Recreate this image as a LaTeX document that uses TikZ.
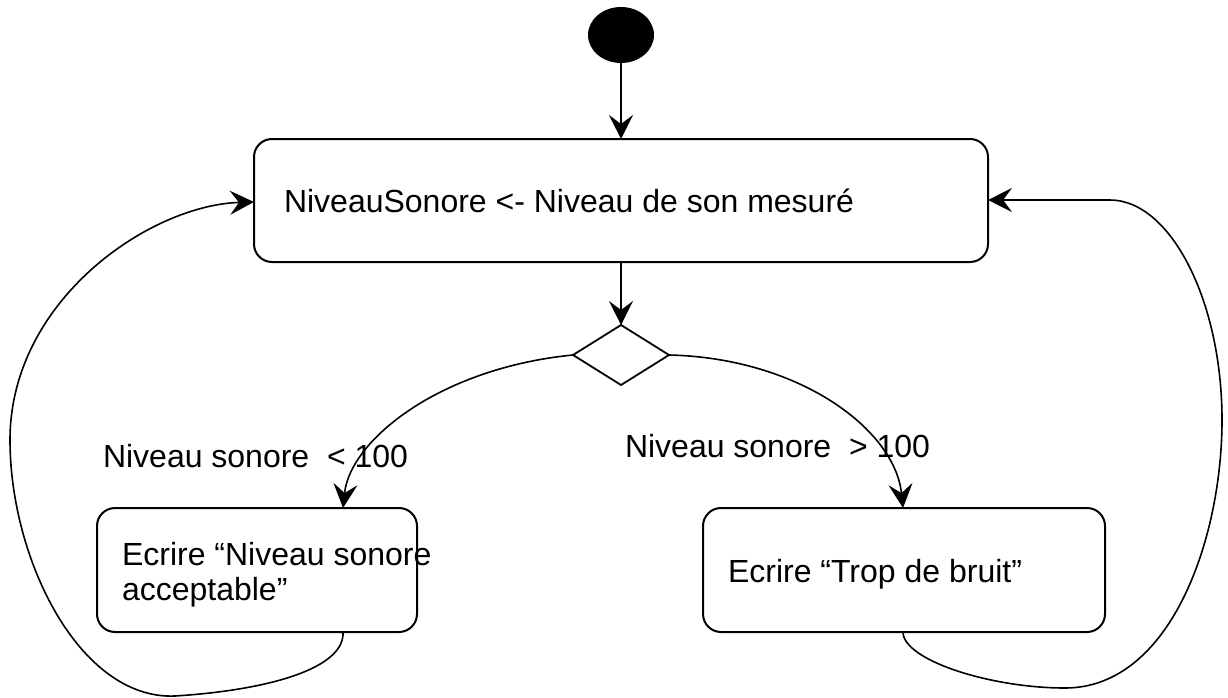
\documentclass[tikz,border=0pt]{standalone}
\usepackage{fontspec}
\setmainfont{Liberation Sans}
\usetikzlibrary{arrows.meta,shapes.geometric}
\begin{document}
\begin{tikzpicture}[x=1pt,y=-1pt,
  line width=2pt,
  every node/.style={inner sep=0pt, outer sep=0pt},
  tip/.style={line width=1.6pt, -{Stealth[length=24pt,width=24pt,inset=9pt]}},
  action/.style={draw, rounded corners=18pt, anchor=north west},
  label/.style={anchor=base west, font=\fontsize{32}{35}\selectfont}
]
\useasboundingbox (0,0) rectangle (1228,698);

% initial state and decision
\node[ellipse, fill=black, minimum width=66pt, minimum height=56pt] (start) at (621,35) {};
\node[diamond, draw, line width=1.8pt, minimum width=96pt, minimum height=60pt] (choice) at (621,355) {};

% action boxes
\node[action, minimum width=734pt, minimum height=123pt] (measure) at (254,139) {};
\node[action, minimum width=320pt, minimum height=124pt] (ok) at (97,508) {};
\node[action, minimum width=402pt, minimum height=124pt] (loud) at (703,508) {};

% texts
\node[label] (tmeasure) at (284,212) {NiveauSonore <- Niveau de son mesuré};
\node[label] (tok1) at (122,565) {Ecrire “Niveau sonore};
\node[label] (tok2) at (122,600) {acceptable”};
\node[label] (tloud) at (728,582) {Ecrire “Trop de bruit”};
\node[label] (tlow) at (103,467) {Niveau sonore \ < 100};
\node[label] (thigh) at (625,457) {Niveau sonore \ > 100};

% anchor points on the box edges
\coordinate (okIn) at (343,508);
\coordinate (okOut) at (343,632);
\coordinate (loudIn) at (903,508);
\coordinate (loudOut) at (903,632);
\coordinate (measureW) at (254,202);
\coordinate (measureE) at (988,200);

% connectors
\draw[tip] (start) -- (measure);
\draw[tip] (measure) -- (choice);
\draw[tip] (choice.west) .. controls (440,368) and (350,440) .. (okIn);
\draw[tip] (choice.east) .. controls (800,358) and (895,430) .. (loudIn);

% loops back to the measurement
\draw[tip] (okOut) .. controls (345,668) and (270,690) .. (175,696)
  .. controls (80,700) and (10,560) .. (10,440)
  .. controls (10,300) and (150,205) .. (measureW);
\draw[tip] (loudOut) .. controls (903,660) and (990,688) .. (1065,688)
  .. controls (1170,688) and (1222,540) .. (1222,420)
  .. controls (1222,300) and (1170,200) .. (1110,200) -- (measureE);
\end{tikzpicture}
\end{document}
